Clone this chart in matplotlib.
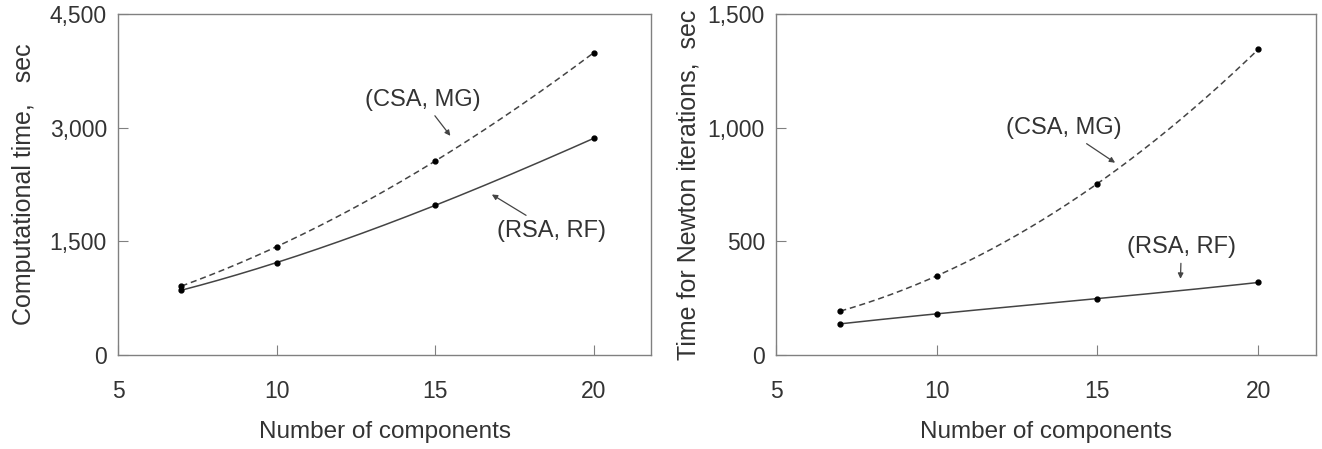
import numpy as np
import matplotlib.pyplot as plt

plt.rcParams['font.family'] = ['Liberation Sans', 'DejaVu Sans']

# data
n_comp = [7, 10, 15, 20]
comp_csa_mg = [910, 1430, 2560, 3990]
comp_rsa_rf = [855, 1220, 1975, 2860]
newton_csa_mg = [193, 348, 754, 1344]
newton_rsa_rf = [137, 181, 248, 319]

txt_col = '#333333'
line_col = '#444444'
spine_col = '#808080'


def smooth(x, y):
    # cubic through the four points, just for drawing a smooth curve
    c = np.polyfit(x, y, 3)
    xs = np.linspace(min(x), max(x), 200)
    return xs, np.polyval(c, xs)


def draw_panel(ax, y_csa, y_rsa, ylim, yticks, ylabels, ylab, ylpad):
    xs, ys = smooth(n_comp, y_csa)
    ax.plot(xs, ys, '--', color=line_col, lw=1.1, dashes=(4, 2.5))
    ax.plot(n_comp, y_csa, 'o', color='black', ms=3.5)
    xs, ys = smooth(n_comp, y_rsa)
    ax.plot(xs, ys, '-', color=line_col, lw=1.1)
    ax.plot(n_comp, y_rsa, 'o', color='black', ms=3.5)

    ax.set_xlim(5, 21.8)
    ax.set_ylim(*ylim)
    ax.set_xticks([5, 10, 15, 20])
    ax.set_yticks(yticks)
    ax.set_yticklabels(ylabels)
    ax.tick_params(direction='in', length=7, color=spine_col,
                   labelsize=16.5, labelcolor=txt_col)
    ax.tick_params(axis='x', pad=18)
    ax.tick_params(axis='y', pad=8)
    for s in ax.spines.values():
        s.set_color(spine_col)
        s.set_linewidth(1.0)
    ax.set_xlabel('Number of components', fontsize=17.5, color=txt_col, labelpad=13)
    ax.set_ylabel(ylab, fontsize=18, color=txt_col, labelpad=ylpad)


fig = plt.figure(figsize=(13.22, 4.49), dpi=100)
ax1 = fig.add_axes([0.0893, 0.2094, 0.4031, 0.7594])
ax2 = fig.add_axes([0.587, 0.2094, 0.4085, 0.7594])

draw_panel(ax1, comp_csa_mg, comp_rsa_rf, (0, 4500), [0, 1500, 3000, 4500],
           ['0', '1,500', '3,000', '4,500'], 'Computational time,   sec', 10)
draw_panel(ax2, newton_csa_mg, newton_rsa_rf, (0, 1500), [0, 500, 1000, 1500],
           ['0', '500', '1,000', '1,500'], 'Time for Newton iterations,  sec', 5)

arr = dict(arrowstyle='-|>', color=line_col, lw=0.9, mutation_scale=8)
ax1.annotate('(CSA, MG)', xy=(15.53, 2863), xytext=(14.6, 3368), ha='center',
             va='center', fontsize=17, color=txt_col, arrowprops=arr)
ax1.annotate('(RSA, RF)', xy=(16.71, 2137), xytext=(18.65, 1642), ha='center',
             va='center', fontsize=17, color=txt_col, arrowprops=arr)
ax2.annotate('(CSA, MG)', xy=(15.62, 839), xytext=(13.95, 997), ha='center',
             va='center', fontsize=17, color=txt_col, arrowprops=arr)
ax2.annotate('(RSA, RF)', xy=(17.58, 323), xytext=(17.61, 476), ha='center',
             va='center', fontsize=17, color=txt_col, arrowprops=arr)

fig.savefig('out.png', dpi=100)
